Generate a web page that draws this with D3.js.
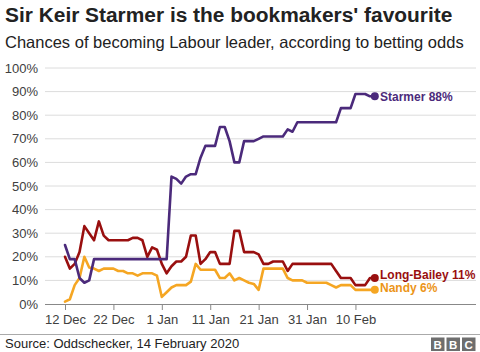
<!DOCTYPE html>
<html><head><meta charset="utf-8">
<script src="https://cdn.jsdelivr.net/npm/d3@7"></script>
<style>
html,body{margin:0;padding:0;background:#fff;}
svg{display:block;font-family:"Liberation Sans",Arial,Helvetica,sans-serif;}
</style></head>
<body><svg id="c" width="480" height="352"></svg>
<script>
const startDate = new Date(2019, 11, 12);
const endDate = new Date(2020, 1, 14);
const tickDates = [new Date(2019,11,12), new Date(2019,11,22), new Date(2020,0,1), new Date(2020,0,11), new Date(2020,0,21), new Date(2020,0,31), new Date(2020,1,10)];
const tickLabels = ["12 Dec","22 Dec","1 Jan","11 Jan","21 Jan","31 Jan","10 Feb"];
const yTicks = [0,10,20,30,40,50,60,70,80,90,100];

const starmer = [25,19,19,11,9,10,19, 19,19,19,19,19,19,19,19,19,19,19,19,19,19,19,
  54,53,51,54,55,55,62,67,67,67, 75,75,69,60,60,69,69,69,70,71, 71,71,71,71,74,73,77,
  77,77,77,77,77,77,77,77, 83,83,83,89,89,89,88,88];
const longBailey = [20,15,17,22,33,30,27,35,29,27, 27,27,27,27,28,28,27,20,24,23,
  17,13,16,18,18,20,29,29,17,19, 22,22,17,17,17,31,31,22,22,22, 21,17,17,18,18,18,14,17,
  17,17,17,17,17,17,17,17, 14,11,11,11,8,8,8,11,11];
const nandy = [1,2,8,11,20,15.5,15,14,15,15, 15,14,14,13,13,12,13,13,13,12,
  3,5,7,8,8,8,9.5,17,14.5,14.5, 14.5,14.5,11,11,13,10,11,10,9,8.5, 6,15,15,15,15,15,11,10,10,10,
  9,9,9,9,9,8,7,8,8,8, 6,6,6,6,6];

const seriesNames = ["Starmer","Long-Bailey","Nandy"];
const seriesLabels = ["Starmer 88%","Long-Bailey 11%","Nandy 6%"];
const seriesColors = ["#4b2a7b","#990f0f","#f5a623"];
const labelColors = ["#4b2a7b","#990f0f","#ec9518"];
const seriesData = [starmer, longBailey, nandy];

const dates = d3.timeDay.range(startDate, d3.timeDay.offset(endDate,1));

const svg = d3.select("#c");
const x = d3.scaleTime().domain([startDate, endDate]).range([65, 374.8]);
const y = d3.scaleLinear().domain([0,100]).range([304, 68]);

// title
svg.append("text").attr("x",5).attr("y",22).attr("font-size",20.9).attr("font-weight","bold").attr("fill","#222")
  .text("Sir Keir Starmer is the bookmakers' favourite");
svg.append("text").attr("x",5).attr("y",48).attr("font-size",16.5).attr("fill","#222")
  .text("Chances of becoming Labour leader, according to betting odds");

// grid
const grid = svg.append("g");
grid.selectAll("line").data(yTicks.filter(d=>d>0)).join("line")
  .attr("x1",45).attr("x2",476).attr("y1",d=>y(d)).attr("y2",d=>y(d))
  .attr("stroke","#dcdcdc").attr("stroke-width",1);

// y axis
const yAxis = d3.axisLeft(y).tickValues(yTicks).tickFormat(d=>d+"%").tickSize(0).tickPadding(0);
const gy = svg.append("g").attr("transform","translate(38,0)").call(yAxis);
gy.select(".domain").remove();
gy.selectAll("text").attr("font-size",13).attr("fill","#404040").attr("font-family","Liberation Sans, Arial, sans-serif");

// x axis
const xAxis = d3.axisBottom(x).tickValues(tickDates).tickFormat((d,i)=>tickLabels[i]).tickSize(6).tickPadding(5);
const gx = svg.append("g").attr("transform","translate(0,304)").call(xAxis);
gx.select(".domain").attr("d","M45,0.5H476").attr("stroke","#888");
gx.selectAll(".tick line").attr("stroke","#888");
gx.selectAll("text").attr("font-size",13).attr("fill","#404040").attr("font-family","Liberation Sans, Arial, sans-serif");

// lines
const line = d3.line().x((d,i)=>x(dates[i])).y(d=>y(d)).curve(d3.curveLinear);
const lineOrder = [2,1,0];
lineOrder.forEach(k=>{
  svg.append("path").datum(seriesData[k]).attr("d",line)
    .attr("fill","none").attr("stroke",seriesColors[k]).attr("stroke-width",2.6)
    .attr("stroke-linejoin","round").attr("stroke-linecap","round");
});
// end dots + labels
const labelY = [y(88)+4.5, 278.5, 292.2];
seriesData.forEach((s,k)=>{
  const last = s.length-1;
  svg.append("circle").attr("cx",x(dates[last])).attr("cy",y(s[last])).attr("r",4).attr("fill",seriesColors[k]);
  svg.append("text").attr("x",380).attr("y",labelY[k]).attr("font-size",12).attr("font-weight","bold")
    .attr("fill",labelColors[k]).text(seriesLabels[k]);
});

// footer
svg.append("line").attr("x1",0).attr("x2",480).attr("y1",334.5).attr("y2",334.5).attr("stroke","#aaa").attr("stroke-width",1);
svg.append("text").attr("x",5).attr("y",348).attr("font-size",13).attr("fill","#222").text("Source: Oddschecker, 14 February 2020");
const bbc = ["B","B","C"];
const lg = svg.append("g");
bbc.forEach((c,i)=>{
  lg.append("rect").attr("x",431+i*15.5).attr("y",337.5).attr("width",13.5).attr("height",13.5).attr("fill","#6e6e6e");
  lg.append("text").attr("x",431+i*15.5+6.75).attr("y",348.5).attr("text-anchor","middle").attr("font-size",11.5)
    .attr("font-weight","bold").attr("fill","#fff").text(c);
});
</script></body></html>
